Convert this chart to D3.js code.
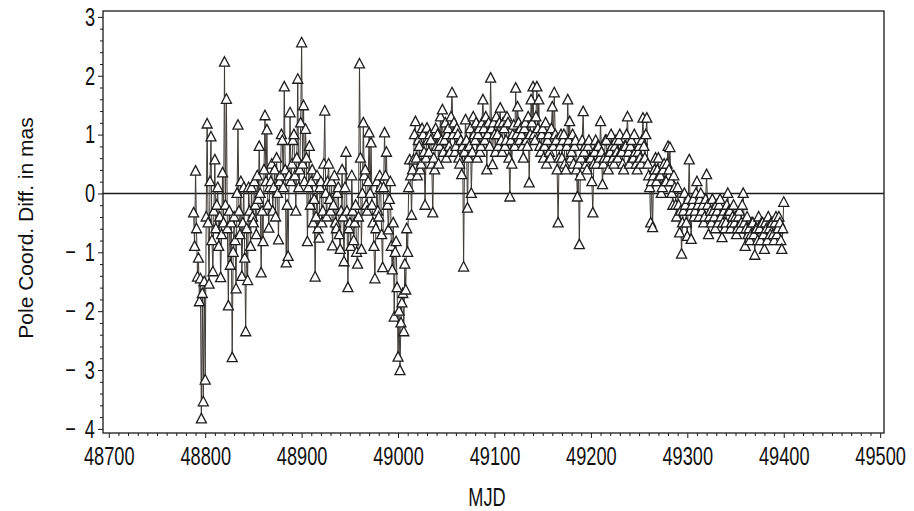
<!DOCTYPE html>
<html>
<head>
<meta charset="utf-8">
<script src="https://cdn.jsdelivr.net/npm/d3@7"></script>
<style>
  html, body { margin: 0; padding: 0; background: #fff; }
  svg { display: block; }
  text { font-family: "Liberation Sans", Arial, Helvetica, sans-serif; fill: #111; }
</style>
</head>
<body>
<svg id="chart" width="914" height="511"></svg>
<script>
// ---- data ----
const mjdStart = 48788;   // first epoch (MJD), daily sampling
const poleDiff = [
  -0.33, -0.9, 0.38, -0.6, -1.42, -1.1, -1.84, -1.45, -3.83, -1.7, -3.54, -1.5, -3.17, -0.4, 1.18, -0.5, -1.54, 0.2, 0.96, -0.8,
  -1.33, -0.3, 0.57, -0.6, -0.2, 0.1, -0.9, -0.4, -1.43, -0.7, 0.35, -0.5, 2.23, -0.2, 1.6, -0.6, -1.91, -0.3, -1.22, -0.5,
  -2.79, -1.0, -0.4, -0.8, -1.62, 0.0, 1.16, -0.3, -0.7, 0.2, -1.41, -0.5, 0.1, -1.1, -2.35, -0.6, -1.48, 0.1, -0.3, -0.9,
  0.1, -0.4, -0.5, 0.2, -0.2, -0.7, 0.3, -0.1, 0.8, 0.0, -1.35, -0.3, -0.82, 0.4, 1.32, 0.2, 1.08, -0.2, -0.59, 0.1,
  0.2, 0.5, -0.3, 0.1, 0.4, -0.4, 0.6, 0.0, -0.79, 0.2, 0.3, 1.0, 0.9, 0.1, 1.81, 0.4, -1.18, -0.2, -1.07, 0.3,
  1.37, 0.2, 0.5, 0.9, 1.0, 0.3, -0.3, 0.6, 1.94, 0.1, 0.4, 1.2, 2.56, 0.5, 1.49, 0.2, 1.09, 0.6, -0.82, 0.1,
  0.8, -0.2, 0.2, 0.4, -0.5, -0.1, -1.42, -0.4, 0.3, -0.6, -0.76, 0.1, 0.2, -0.5, -0.3, 0.5, 1.4, 0.0, -0.4, 0.2,
  0.5, -0.1, -0.3, 0.2, -0.89, -0.2, 0.3, -0.5, -0.6, 0.0, 0.1, -0.7, -0.95, -0.3, 0.4, -0.4, -1.16, 0.1, 0.7, -0.3,
  -1.6, -0.6, -0.5, -0.9, 0.3, -0.3, -0.8, -0.5, -0.2, -1.0, -1.2, -0.4, 2.2, 0.6, -0.95, 0.0, 1.2, 0.3, 0.4, -0.2,
  -0.3, 0.2, 1.03, 0.0, 0.86, -0.2, -0.5, -0.9, -1.45, -0.6, 0.2, -0.3, -0.4, 0.3, 0.1, -0.7, -1.26, 0.1, 1.03, 0.3,
  0.7, -0.2, -0.62, -0.1, 0.2, -0.9, -1.3, -0.5, -2.1, -1.0, -0.82, -1.6, -2.78, -2.0, -3.01, -2.2, -1.86, -1.7, -2.35, -1.2,
  -1.64, -0.6, -1.0, 0.1, 0.57, 0.3, -0.37, 0.4, 0.57, 1.0, 1.22, 0.6, 0.3, 0.9, 0.8, 0.4, 0.5, 1.1, 1.0, 0.7,
  -0.2, 0.6, 1.11, 0.9, 0.7, 1.0, 0.91, 0.5, -0.33, 0.6, 0.4, 1.1, 0.8, 1.0, 0.5, 0.8, 1.3, 0.9, 1.42, 0.7,
  0.9, 1.2, 0.6, 1.0, 1.1, 0.8, 0.7, 1.3, 1.71, 1.0, 1.2, 0.7, 0.8, 1.1, 1.0, 0.6, 0.5, 0.9, 0.32, 0.8,
  -1.25, 0.7, 1.25, 0.9, -0.25, 0.6, 0.8, 1.1, 0.0, 0.7, 1.3, 1.0, 0.9, 1.2, 0.6, 1.0, 1.1, 0.7, 0.8, 1.2,
  1.59, 1.1, 0.9, 1.3, 0.4, 1.0, 1.2, 0.8, 1.96, 1.1, 0.49, 1.2, 1.0, 0.7, 1.3, 1.0, 0.8, 1.2, 1.45, 0.9,
  0.7, 1.2, 1.1, 0.8, 0.9, 1.3, 1.2, 0.6, -0.06, 0.9, 0.5, 1.0, 1.16, 0.8, 1.79, 1.0, 1.47, 1.2, 0.9, 1.1,
  1.0, 0.8, 0.6, 1.1, 1.2, 0.9, 0.8, 1.3, 0.18, 1.0, 1.59, 1.2, 1.81, 1.0, 0.9, 1.3, 1.81, 1.1, 1.59, 0.8,
  0.7, 1.0, 1.1, 0.6, 0.8, 1.2, 0.5, 0.9, 1.0, 0.7, 0.6, 1.1, 1.47, 0.8, 1.71, 1.0, 0.9, 0.4, -0.5, 0.6,
  0.8, 1.0, 0.6, 0.9, 1.0, 0.5, 0.4, 0.8, 1.59, 0.9, 1.22, 0.6, 0.7, 1.0, 0.5, 0.8, 0.9, 0.4, -0.06, 0.5,
  -0.87, 0.3, 0.6, 0.9, 1.39, 0.7, 0.8, 0.5, 0.4, 0.8, 0.9, 0.6, 0.6, 0.2, -0.33, 0.5, 0.7, 0.9, 0.5, 0.8,
  0.8, 0.6, 1.22, 0.7, 0.15, 0.5, 0.6, 0.9, 0.9, 0.6, 0.4, 0.7, 0.7, 1.0, 0.8, 0.6, 0.5, 0.8, 0.9, 0.7,
  0.6, 0.9, 1.0, 0.7, 0.7, 0.5, 0.4, 0.8, 0.8, 1.0, 1.3, 0.7, 0.5, 0.8, 0.9, 0.6, 0.6, 1.0, 0.7, 0.5,
  0.4, 0.7, 0.8, 0.6, 0.5, 0.9, 1.28, 0.8, 0.6, 1.0, 1.28, 0.5, 0.3, 0.1, -0.5, 0.2, -0.58, 0.3, 0.4, 0.6,
  0.2, 0.4, 0.6, 0.3, 0.3, 0.0, 0.1, 0.4, 0.5, 0.2, 0.2, 0.5, 0.8, 0.4, 0.78, 0.2, 0.0, -0.2, 0.3, 0.1,
  -0.2, -0.4, 0.1, -0.2, -0.67, -0.3, -1.03, -0.5, -0.3, 0.0, -0.2, -0.5, -0.73, -0.1, 0.57, -0.3, -0.78, -0.2, -0.1, -0.4,
  -0.3, 0.0, 0.2, -0.2, -0.4, -0.1, 0.0, -0.3, -0.2, -0.5, -0.4, -0.1, 0.32, -0.2, -0.7, -0.4, -0.3, -0.5, -0.1, -0.3,
  -0.4, -0.6, -0.2, -0.3, -0.5, -0.2, -0.1, -0.4, -0.75, -0.5, -0.3, -0.6, -0.5, -0.2, 0.0, -0.3, -0.3, -0.6, -0.5, -0.4,
  -0.2, -0.5, -0.4, -0.7, -0.6, -0.4, -0.3, -0.6, -0.5, -0.2, 0.0, -0.5, -0.9, -0.6, -0.4, -0.7, -0.6, -0.8, -0.7, -0.5,
  -0.5, -0.7, -1.05, -0.6, -0.6, -0.8, -0.4, -0.6, -0.8, -0.5, -0.5, -0.7, -0.95, -0.5, -0.6, -0.8, -0.4, -0.6, -0.7, -0.5,
  -0.5, -0.7, -0.8, -0.5, -0.4, -0.7, -0.6, -0.4, -0.5, -0.8, -0.95, -0.6, -0.15
];
const xTicks = [48700, 48800, 48900, 49000, 49100, 49200, 49300, 49400, 49500];
const yTicks = [-4, -3, -2, -1, 0, 1, 2, 3];
const xLabel = "MJD";
const yLabel = "Pole Coord. Diff. in mas";

const data = poleDiff.map((v, i) => ({ mjd: mjdStart + i, v }));

// ---- layout ----
const L = 103, R = 884, T = 11, B = 433;
const svg = d3.select("#chart");

const x = d3.scaleLinear().domain([48694, 49504]).range([L, R]);
const y = d3.scaleLinear().domain([-4.07, 3.1]).range([B, T]);

const ink = "#1a1a1a";

// minor ticks
const xMinor = d3.range(48700, 49501, 10).filter(d => !xTicks.includes(d));
const yMinor = d3.range(-40, 31, 2).map(d => d / 10).filter(d => !yTicks.includes(d));

const gxMin = svg.append("g").attr("transform", `translate(0,${B})`)
  .call(d3.axisBottom(x).tickValues(xMinor).tickSize(3).tickFormat(""));
const gyMin = svg.append("g").attr("transform", `translate(${L},0)`)
  .call(d3.axisLeft(y).tickValues(yMinor).tickSize(3).tickFormat(""));

const sx = 0.7; // condensed label look
const fs = "26px";
const gx = svg.append("g").attr("transform", `translate(0,${B})`)
  .call(d3.axisBottom(x).tickValues(xTicks).tickSize(5).tickFormat(d3.format("d")));
gx.selectAll("text")
  .attr("y", 14)
  .attr("transform", `scale(${sx},1)`)
  .style("font-size", fs);

const gy = svg.append("g").attr("transform", `translate(${L},0)`)
  .call(d3.axisLeft(y).tickValues(yTicks).tickSize(5)
    .tickFormat(d => d < 0 ? "\u2212\u2002" + Math.abs(d) : String(d)));
gy.selectAll("text")
  .attr("x", -8 / sx)
  .attr("transform", `scale(${sx},1)`)
  .style("font-size", fs);

[gxMin, gyMin, gx, gy].forEach(g => {
  g.select(".domain").remove();
  g.selectAll("line").attr("stroke", ink).attr("stroke-width", 1);
  g.selectAll("text").attr("fill", ink);
});

// frame
svg.append("rect")
  .attr("x", L).attr("y", T).attr("width", R - L).attr("height", B - T)
  .attr("fill", "none").attr("stroke", ink).attr("stroke-width", 1.3);

// zero line
svg.append("line")
  .attr("x1", L).attr("x2", R).attr("y1", y(0)).attr("y2", y(0))
  .attr("stroke", ink).attr("stroke-width", 1.5);

// connecting line
const line = d3.line().x(d => x(d.mjd)).y(d => y(d.v));
svg.append("path").datum(data)
  .attr("d", line)
  .attr("fill", "none")
  .attr("stroke", "#3e3a36")
  .attr("stroke-width", 1);

// triangle markers
const tri = "M0,-5.5L5,4L-5,4Z";
svg.append("g").selectAll("path").data(data).join("path")
  .attr("d", tri)
  .attr("transform", d => `translate(${x(d.mjd)},${y(d.v)})`)
  .attr("fill", "#fff")
  .attr("stroke", "#1e1e1e")
  .attr("stroke-width", 1.3);

// axis titles
svg.append("text")
  .attr("transform", `translate(487,506) scale(${sx},1)`)
  .attr("text-anchor", "middle")
  .style("font-size", fs)
  .text(xLabel);

svg.append("text")
  .attr("transform", "translate(33,228) rotate(-90)")
  .attr("text-anchor", "middle")
  .style("font-size", "21px")
  .text(yLabel);
</script>
</body>
</html>
